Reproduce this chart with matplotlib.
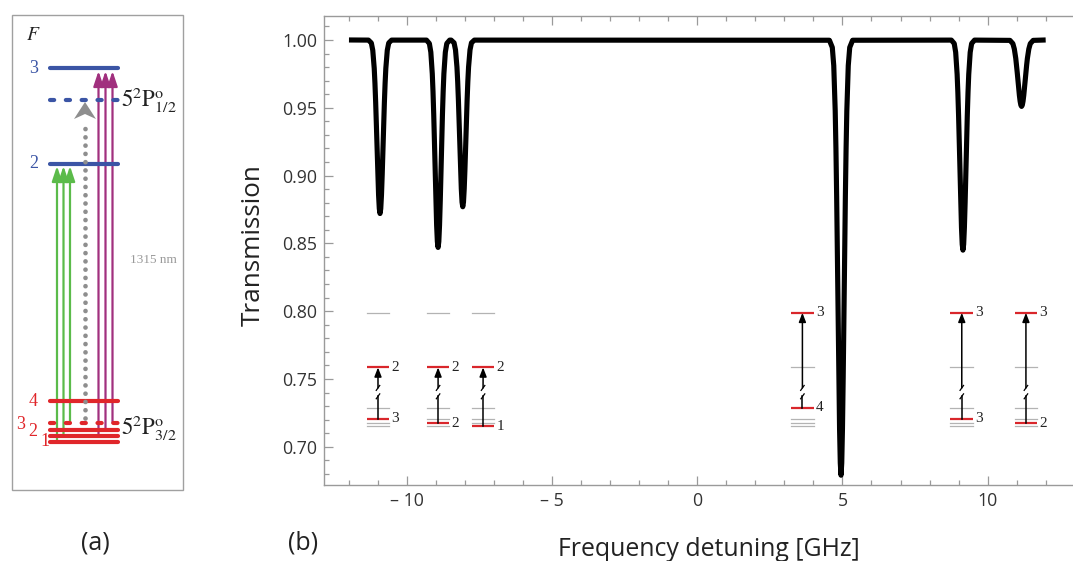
import matplotlib
matplotlib.use("Agg")
import matplotlib.pyplot as plt
from matplotlib.patches import Rectangle, Polygon, FancyArrowPatch
from matplotlib.ticker import MultipleLocator

plt.rcParams['font.family'] = ['Open Sans', 'DejaVu Sans']
plt.rcParams['mathtext.fontset'] = 'stix'

# ---------------- data: transmission spectrum (panel b) ----------------
edge_freq = [-12.0, 12.0]
edge_trans = [1.0, 1.0]

dip1_freq = [-11.33, -11.23, -11.18, -11.13, -11.105, -11.08, -11.055, -11.03, -11.005, -10.98, -10.955, -10.93,
             -10.905, -10.88, -10.855, -10.83, -10.805, -10.78, -10.755, -10.73, -10.68, -10.63, -10.53]
dip1_trans = [.9999, .9978, .9924, .9791, .9681, .9539, .9370, .9186, .9008, .8857, .8756, .872,
              .8756, .8857, .9008, .9186, .9370, .9539, .9681, .9791, .9924, .9978, .9999]

dip2_freq = [-9.33, -9.23, -9.18, -9.13, -9.105, -9.08, -9.055, -9.03, -9.005, -8.98, -8.955, -8.93,
             -8.905, -8.88, -8.855, -8.83, -8.805, -8.78, -8.755, -8.73, -8.68, -8.63, -8.53]
dip2_trans = [.9999, .9974, .9910, .9751, .9619, .9449, .9247, .9027, .8814, .8634, .8513, .847,
              .8513, .8634, .8814, .9027, .9247, .9449, .9619, .9751, .9910, .9974, .9999]

dip3_freq = [-8.48, -8.38, -8.33, -8.28, -8.255, -8.23, -8.205, -8.18, -8.155, -8.13, -8.105, -8.08,
             -8.055, -8.03, -8.005, -7.98, -7.955, -7.93, -7.905, -7.88, -7.83, -7.78, -7.68]
dip3_trans = [.9999, .9979, .9927, .9800, .9694, .9557, .9395, .9218, .9047, .8902, .8804, .877,
              .8804, .8902, .9047, .9218, .9395, .9557, .9694, .9800, .9927, .9979, .9999]

dip4_freq = [4.55, 4.65, 4.70, 4.75, 4.775, 4.80, 4.825, 4.85, 4.875, 4.90, 4.925, 4.95,
             4.975, 5.00, 5.025, 5.05, 5.075, 5.10, 5.125, 5.15, 5.20, 5.25, 5.35]
dip4_trans = [.9998, .9945, .9811, .9477, .9201, .8844, .8421, .7958, .7512, .7133, .6880, .679,
              .6880, .7133, .7512, .7958, .8421, .8844, .9201, .9477, .9811, .9945, .9998]

dip5_freq = [8.75, 8.85, 8.90, 8.95, 8.975, 9.00, 9.025, 9.05, 9.075, 9.10, 9.125, 9.15,
             9.175, 9.20, 9.225, 9.25, 9.275, 9.30, 9.325, 9.35, 9.40, 9.45, 9.55]
dip5_trans = [.9999, .9974, .9909, .9747, .9614, .9442, .9237, .9014, .8799, .8616, .8493, .845,
              .8493, .8616, .8799, .9014, .9237, .9442, .9614, .9747, .9909, .9974, .9999]

dip6_freq = [10.77, 10.87, 10.92, 10.97, 10.995, 11.02, 11.045, 11.07, 11.095, 11.12, 11.145, 11.17,
             11.195, 11.22, 11.245, 11.27, 11.295, 11.32, 11.345, 11.37, 11.42, 11.47, 11.57]
dip6_trans = [.9997, .9973, .9934, .9864, .9816, .9761, .9703, .9644, .9591, .9548, .9520, .951,
              .9520, .9548, .9591, .9644, .9703, .9761, .9816, .9864, .9934, .9973, .9997]

x_ticks = [-10, -5, 0, 5, 10]
x_tick_labels = ['– 10', '– 5', '0', '5', '10']
y_ticks = [0.70, 0.75, 0.80, 0.85, 0.90, 0.95, 1.00]
y_tick_labels = ['0.70', '0.75', '0.80', '0.85', '0.90', '0.95', '1.00']

# ---------------- data: level-scheme insets (panel b) ----------------
inset_center = [-11.0, -8.93, -7.38, 3.62, 9.11, 11.32]
inset_upper = ['2', '2', '2', '3', '3', '3']
inset_lower = ['3', '2', '1', '4', '3', '2']
inset_upper_levels = {'3': 0.7988, '2': 0.7585}
inset_lower_levels = {'4': 0.7288, '3': 0.7208, '2': 0.7172, '1': 0.7152}
inset_break = (0.7372, 0.7434)

# ---------------- data: level diagram (panel a, pixel units) ----------------
a_upper_F = ['3', '2']
a_upper_y = [68, 163.5]
a_p12_y = 100
a_lower_F = ['4', '3', '2', '1']
a_lower_y = [401, 430, 436, 441.5]
a_lower_label_pos = [(33, 401), (21, 424), (33, 431), (45, 441)]
a_p32_y = 423
a_level_x = (50, 118)
a_green_x = [57, 63.5, 70]
a_green_from = [441.5, 436, 423]
a_green_to = 166
a_purple_x = [98.5, 105.5, 112.5]
a_purple_from = [436, 430, 423]
a_purple_to = 71
a_gray_x = 85
a_gray_from = 418
a_gray_tip = 102

BLUE = '#3b55a5'
RED = '#e0262a'
GREEN = '#5bbb4a'
PURPLE = '#a1307e'
GRAY = '#8e8e8e'

W_PX, H_PX = 1073, 561
fig = plt.figure(figsize=(W_PX / 100, H_PX / 100), dpi=100)

# ================= panel (b) =================
ax = fig.add_axes([324 / W_PX, 76 / H_PX, 750.7 / W_PX, (485 - 15.7) / H_PX])
freq = edge_freq[:1] + dip1_freq + dip2_freq + dip3_freq + dip4_freq + dip5_freq + dip6_freq + edge_freq[1:]
trans = edge_trans[:1] + dip1_trans + dip2_trans + dip3_trans + dip4_trans + dip5_trans + dip6_trans + edge_trans[1:]
ax.plot(freq, trans, color='black', lw=3.7, solid_joinstyle='round', solid_capstyle='butt', zorder=5)

ax.set_xlim(-12.86, 13.0)
ax.set_ylim(0.6718, 1.0179)
ax.set_xticks(x_ticks, x_tick_labels)
ax.set_yticks(y_ticks, y_tick_labels)
ax.xaxis.set_minor_locator(MultipleLocator(1))
ax.yaxis.set_minor_locator(MultipleLocator(0.01))
ax.tick_params(which='both', direction='in', top=True, right=False, color='#9a9a9a', width=0.9)
ax.tick_params(which='major', length=6.5, labelsize=12.8, labelcolor='#333333', pad=5)
ax.tick_params(which='minor', length=3.5)
for s in ['left', 'top', 'bottom']:
    ax.spines[s].set_color('#9a9a9a')
    ax.spines[s].set_linewidth(1.0)
ax.spines['right'].set_visible(False)

ax.set_xlabel('Frequency detuning [GHz]', fontsize=17.9, color='#222222')
ax.xaxis.label.set_va('center')
ax.xaxis.set_label_coords((709 - 324) / 750.7, (485 - 549) / 469.3)
ax.set_ylabel('Transmission', fontsize=18.8, color='#222222')
ax.yaxis.label.set_va('center')
ax.yaxis.set_label_coords((253 - 324) / 750.7, (485 - 245) / 469.3)

half_w = 0.39
for c, up, lo in zip(inset_center, inset_upper, inset_lower):
    for F, yv in inset_upper_levels.items():
        if F == up:
            ax.plot([c - half_w, c + half_w], [yv, yv], color='#d9262b', lw=1.6, solid_capstyle='butt', zorder=3)
        else:
            ax.plot([c - half_w, c + half_w], [yv, yv], color='#b3b3b3', lw=0.9, zorder=2)
    for F, yv in inset_lower_levels.items():
        if F == lo:
            ax.plot([c - half_w, c + half_w], [yv, yv], color='#d9262b', lw=1.6, solid_capstyle='butt', zorder=3)
        else:
            ax.plot([c - half_w, c + half_w], [yv, yv], color='#b3b3b3', lw=0.9, zorder=2)
    y_lo = inset_lower_levels[lo]
    y_up = inset_upper_levels[up]
    b_lo, b_hi = inset_break
    ax.plot([c, c], [y_lo, b_lo], color='black', lw=1.1, zorder=4)
    ax.annotate('', xy=(c, y_up), xytext=(c, b_hi),
                arrowprops=dict(arrowstyle='-|>,head_length=0.9,head_width=0.35', mutation_scale=6,
                                color='black', lw=1.1, shrinkA=0, shrinkB=0), zorder=4)
    for yb in (b_lo, b_hi):
        ax.plot([c - 0.06, c + 0.06], [yb - 0.0018, yb + 0.0018], color='black', lw=0.9, zorder=4)
    ax.text(c + half_w + 0.08, y_up, up, fontsize=11, family='Liberation Serif', color='#222222',
            ha='left', va='center')
    ax.text(c + half_w + 0.08, y_lo, lo, fontsize=11, family='Liberation Serif', color='#222222',
            ha='left', va='center')

# ================= panel (a) =================
axa = fig.add_axes([0, 0, 210 / W_PX, 1])
axa.set_xlim(0, 210)
axa.set_ylim(H_PX, 0)
axa.axis('off')
axa.add_patch(Rectangle((12, 15), 171, 475, fill=False, ec='#a0a0a0', lw=1.0))

axa.text(33, 35, r'$F$', fontsize=14, ha='center', va='center', color='#222222')
for F, yv in zip(a_upper_F, a_upper_y):
    axa.plot(a_level_x, [yv, yv], color=BLUE, lw=3.0, solid_capstyle='round')
    axa.text(34, yv, F, fontsize=13, family='Liberation Serif', color=BLUE, ha='center', va='center')
axa.plot(a_level_x, [a_p12_y, a_p12_y], color=BLUE, lw=3.0, ls=(0, (1.0, 2.8)), dash_capstyle='round')
axa.text(121, a_p12_y, r'$5^{2}\mathrm{P}^{\mathrm{o}}_{1/2}$', fontsize=16.5, ha='left', va='center', color='#222222')

for F, yv, pos in zip(a_lower_F, a_lower_y, a_lower_label_pos):
    axa.plot(a_level_x, [yv, yv], color=RED, lw=3.0, solid_capstyle='round')
    axa.text(pos[0], pos[1], F, fontsize=13, family='Liberation Serif', color=RED, ha='center', va='center')
axa.plot(a_level_x, [a_p32_y, a_p32_y], color=RED, lw=3.0, ls=(0, (1.0, 2.8)), dash_capstyle='round')
axa.text(121, 428, r'$5^{2}\mathrm{P}^{\mathrm{o}}_{3/2}$', fontsize=16.5, ha='left', va='center', color='#222222')

for xs, froms, to, col in ((a_green_x, a_green_from, a_green_to, GREEN),
                           (a_purple_x, a_purple_from, a_purple_to, PURPLE)):
    for xv, fv in zip(xs, froms):
        axa.add_patch(FancyArrowPatch((xv, fv), (xv, to),
                                      arrowstyle='-|>,head_length=0.9,head_width=0.3', mutation_scale=10,
                                      color=col, lw=1.6, shrinkA=0, shrinkB=0))

axa.plot([a_gray_x, a_gray_x], [a_gray_from, 128], color=GRAY, lw=3.4, ls=(0, (0.001, 1.75)),
         dash_capstyle='round')
head_len, head_w, notch = 17, 11, 5
axa.add_patch(Polygon([(a_gray_x, a_gray_tip), (a_gray_x + head_w, a_gray_tip + head_len),
                       (a_gray_x, a_gray_tip + head_len - notch), (a_gray_x - head_w, a_gray_tip + head_len)],
                      closed=True, color=GRAY, lw=0))
axa.text(153, 260, '1315 nm', fontsize=9.5, family='Liberation Serif', color='#9a9a9a', ha='center', va='center')

fig.text(95 / W_PX, 1 - 543 / H_PX, '(a)', fontsize=18, ha='center', va='center', color='#222222')
fig.text(303 / W_PX, 1 - 543 / H_PX, '(b)', fontsize=18, ha='center', va='center', color='#222222')

fig.savefig('out.png', dpi=100)
